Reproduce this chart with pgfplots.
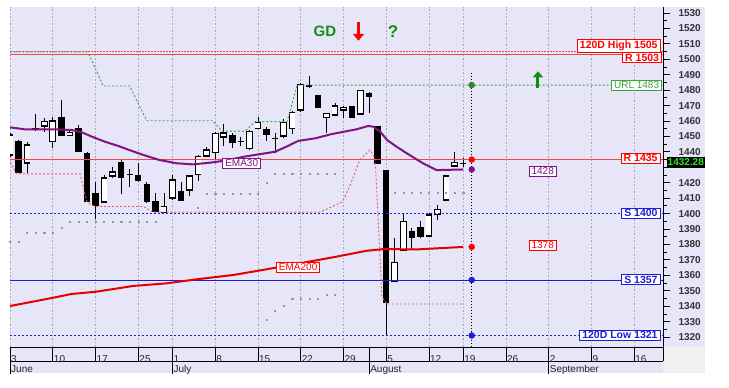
\documentclass[border=0pt]{standalone}
\usepackage{fontspec}
\setmainfont{Liberation Sans}
\usepackage{pgfplots}
\usepackage{pgfplotstable}
\pgfplotsset{compat=1.18}
\usetikzlibrary{arrows.meta}

\definecolor{bgc}{RGB}{230,230,248}
\definecolor{emap}{RGB}{128,20,128}
\definecolor{emar}{RGB}{228,0,0}
\definecolor{rline}{RGB}{240,70,70}
\definecolor{sar}{RGB}{235,90,90}
\definecolor{gline}{RGB}{60,165,60}
\definecolor{bline}{RGB}{30,30,215}
\definecolor{gdgreen}{RGB}{20,140,20}
\definecolor{gridc}{RGB}{165,165,175}
\definecolor{dotg}{RGB}{150,150,160}
\definecolor{lastg}{RGB}{40,230,40}

% black (down) candles and dojis
\pgfplotstableread{
i open high low close
1 1447.0 1447.5 1426.0 1426.3
3 1455.3 1464.5 1453.5 1454.7
6 1462.6 1473.6 1450.3 1450.3
8 1455.5 1457.4 1439.9 1439.9
9 1439.3 1439.9 1407.5 1407.5
10 1413.3 1420.5 1396.5 1404.9
13 1433.4 1434.7 1412.7 1423.1
14 1425.8 1428.9 1417.2 1425.2
15 1425.0 1432.8 1420.5 1421.1
16 1419.2 1420.5 1406.9 1407.5
17 1408.2 1413.3 1401.0 1401.0
20 1414.8 1420.5 1408.4 1408.4
26 1450.9 1452.2 1442.5 1445.9
27 1446.8 1449.8 1443.8 1446.2
30 1454.6 1455.9 1447.2 1450.9
31 1449.1 1452.0 1439.1 1448.5
35 1483.3 1489.0 1481.2 1481.8
36 1476.9 1476.9 1468.2 1468.2
40 1469.7 1469.7 1461.8 1461.8
42 1478.0 1479.0 1465.4 1475.8
43 1457.0 1457.0 1432.1 1432.1
44 1428.2 1428.5 1321.3 1341.9
47 1388.9 1390.5 1376.4 1384.0
48 1391.1 1395.4 1384.0 1384.6
53 1432.9 1435.8 1430.4 1432.3
}\blackc

% white (up) candles
\pgfplotstableread{
i open high low close
0 1438.0 1452.2 1436.7 1450.9
2 1432.8 1446.4 1426.3 1444.4
4 1456.8 1462.0 1452.9 1459.6
5 1446.7 1462.6 1442.5 1460.0
7 1450.6 1454.2 1450.0 1452.6
11 1407.5 1425.0 1407.5 1423.1
12 1424.4 1430.2 1423.1 1427.0
18 1400.8 1413.3 1400.8 1404.5
19 1410.1 1425.0 1408.8 1421.8
21 1415.3 1425.0 1411.6 1424.4
22 1425.5 1438.0 1421.1 1436.9
23 1437.3 1443.3 1437.3 1441.2
24 1439.7 1453.1 1435.4 1452.0
25 1449.6 1458.1 1443.8 1452.2
28 1442.3 1454.2 1441.2 1453.1
29 1455.3 1462.4 1454.8 1459.2
32 1450.3 1461.1 1448.8 1459.2
33 1455.3 1466.7 1451.4 1465.4
34 1467.1 1484.4 1466.0 1483.8
37 1462.1 1465.0 1452.0 1464.9
38 1463.9 1471.5 1463.2 1469.7
39 1467.1 1469.7 1461.8 1468.9
41 1464.5 1480.0 1464.5 1479.6
45 1356.3 1384.4 1356.3 1368.2
46 1376.4 1400.2 1376.4 1394.7
49 1385.5 1400.4 1384.9 1399.1
50 1399.5 1405.6 1395.8 1402.8
51 1408.8 1424.4 1408.8 1424.4
52 1430.8 1440.1 1430.8 1433.0
}\whitec

\pgfplotstableread{
i v
0 1455.9
1.75 1454.6
5.3 1454.6
7.2 1454.2
8.4 1452.7
9.6 1449.8
11.1 1446.6
12.9 1443.4
13.6 1441.9
15.6 1438.0
17.5 1434.7
19.5 1432.6
21.4 1431.9
23.4 1433.0
25.1 1434.3
27.5 1437.0
31.0 1440.1
32.5 1443.8
33.7 1447.1
35.7 1448.8
37.6 1451.5
40.5 1454.6
41.9 1456.8
42.5 1456.3
43.3 1453.1
44.1 1447.7
45.2 1443.4
46.4 1439.1
48.3 1432.6
49.9 1428.2
53 1428.6
}\emathirty

\pgfplotstableread{
i v
0 1340.1
4.7 1345.1
7.2 1347.9
10.1 1349.4
14.4 1353.1
18.3 1354.8
21.8 1357.4
26.1 1360.2
30.0 1363.9
33.9 1367.8
37.8 1371.7
41.7 1375.9
43.7 1377.0
47.6 1376.8
53 1378.4
}\ematwohundred

\pgfplotstableread{
i v
0 1504.7
9.1 1504.7
10.9 1482.7
14.0 1482.7
16.0 1460.2
23.7 1460.2
24.8 1453.5
27.5 1453.5
28.7 1459.6
32.4 1459.6
33.6 1483.3
76.37 1483.3
}\greenstop

\pgfplotstableread{
i v
0 1433.4
0.8 1425.7
8.2 1425.7
9.0 1407.5
9.9 1404.6
15.6 1404.6
16.7 1401.0
36.3 1401.0
38.9 1407.7
39.8 1418.5
40.9 1434.7
42.1 1441.2
42.7 1436.0
43.5 1346.0
44.1 1341.4
53 1341.4
}\redstop

\pgfplotstableread{
i v
0 1381.8
1 1381.8
2 1387.6
3 1387.6
4 1387.6
5 1387.6
6 1390.9
7 1394.7
8 1394.7
9 1394.7
10 1394.7
11 1394.7
12 1394.7
13 1394.7
14 1394.7
15 1394.7
16 1394.7
17 1394.7
22 1404.0
23 1413.1
24 1413.1
25 1413.1
26 1413.1
27 1413.1
28 1413.1
29 1413.1
30 1420.0
31 1426.1
32 1426.1
33 1426.1
34 1426.1
35 1426.1
36 1426.1
37 1426.1
38 1426.1
45 1413.7
46 1413.7
47 1413.7
48 1413.7
49 1413.7
50 1413.7
51 1413.7
52 1413.7
53 1413.7
}\greyup

\pgfplotstableread{
i v
30 1331.0
31 1336.9
32 1340.1
33 1345.1
34 1345.1
35 1345.1
36 1345.1
37 1347.2
38 1347.2
}\greylow

\tikzset{
  lbox/.style={draw=#1, text=#1, fill=white, line width=0.8pt, inner xsep=2.5pt, inner ysep=1.4pt, font=\fontsize{10}{11}\selectfont},
  lboxb/.style={draw=#1, text=#1, fill=white, line width=0.8pt, inner xsep=2.5pt, inner ysep=1.4pt, font=\bfseries\fontsize{10.5}{11}\selectfont},
}

\begin{document}
\begin{tikzpicture}
\useasboundingbox (0pt,0pt) rectangle (729pt,388pt);
\fill[white] (0pt,0pt) rectangle (729pt,388pt);
\fill[bgc] (10pt,41pt) rectangle (705pt,381pt);
\fill[bgc] (10pt,15pt) rectangle (663pt,41pt);
\fill[gray!12] (663pt,15pt) rectangle (705pt,41pt);
\draw[black, line width=0.8pt] (10pt,27pt) -- (663pt,27pt);
\draw[black, line width=0.8pt] (663pt,41pt) -- (663pt,27pt);
\begin{axis}[
  at={(10pt,41pt)}, anchor=south west,
  scale only axis, width=653pt, height=340pt,
  xmin=0, xmax=76.37, ymin=1313.55, ymax=1533.9,
  axis x line*=bottom, axis y line*=right,
  axis line style={-, black, line width=0.8pt},
  clip mode=individual,
  tick align=outside,
  xtick={0,5,10,15,19,24,29,34,39,44,49,53,58,63,68,73},
  xticklabels={3,10,17,25,1,8,15,22,29,5,12,19,26,2,9,16},
  x tick style={draw=none},
  xticklabel style={anchor=north west, inner sep=1pt, font=\fontsize{10}{12}\selectfont, text=black!85},
  extra x ticks={0,19,42,63},
  extra x tick labels={June,July,August,September},
  extra x tick style={grid=none, xticklabel style={anchor=north west, yshift=-10.5pt}},
  xmajorgrids,
  major grid style={gridc, dash pattern=on 1.5pt off 2pt, line width=0.6pt},
  ytick={1320,1330,...,1530},
  yticklabels={1320,1330,1340,1350,1360,1370,1380,1390,1400,1410,1420,{},1440,1450,1460,1470,1480,1490,1500,1510,1520,1530},
  minor y tick num=1,
  major tick length=7pt, minor tick length=3.5pt,
  y tick style={black, line width=0.8pt},
  yticklabel style={font=\bfseries\fontsize{10}{12}\selectfont, text=black!80, anchor=west, xshift=5pt},
  /pgf/number format/1000 sep={},
]
% date separators
\pgfplotsinvokeforeach{5,10,15,24,29,34,39,44,49,53,58,68,73}{
  \draw[black, line width=0.8pt] (axis cs:#1,1313.55) -- ++(0pt,-14pt);
}
\pgfplotsinvokeforeach{0,19,42,63}{
  \draw[black, line width=0.8pt] (axis cs:#1,1313.55) -- ++(0pt,-27pt);
}

% candles: wicks
\addplot[draw=none, mark=none, forget plot, error bars/.cd, y dir=plus, y explicit, error mark=none,
  error bar style={draw=black, line width=0.8pt}]
  table[x=i, y=low, y error expr=\thisrow{high}-\thisrow{low}] {\blackc};
\addplot[draw=none, mark=none, forget plot, error bars/.cd, y dir=plus, y explicit, error mark=none,
  error bar style={draw=black, line width=0.8pt}]
  table[x=i, y=low, y error expr=\thisrow{high}-\thisrow{low}] {\whitec};
% black bodies
\addplot[draw=none, mark=none, forget plot, error bars/.cd, y dir=minus, y explicit, error mark=none,
  error bar style={draw=black, line width=6.4pt}]
  table[x=i, y=open, y error expr=\thisrow{open}-\thisrow{close}] {\blackc};
% white bodies
\addplot[draw=none, mark=none, forget plot, error bars/.cd, y dir=minus, y explicit, error mark=none,
  error bar style={draw=black, line width=6.6pt}]
  table[x=i, y expr=\thisrow{close}+0.4, y error expr=\thisrow{close}-\thisrow{open}+0.8] {\whitec};
\addplot[draw=none, mark=none, forget plot, error bars/.cd, y dir=minus, y explicit, error mark=none,
  error bar style={draw=white, line width=5.0pt}]
  table[x=i, y expr=\thisrow{close}-0.4, y error expr=\thisrow{close}-\thisrow{open}-0.8] {\whitec};

% grey dot series
\addplot[only marks, mark=square*, mark size=0.55pt, color=dotg] table[x=i, y=v] {\greyup};
\addplot[only marks, mark=square*, mark size=0.55pt, color=dotg] table[x=i, y=v] {\greylow};

% horizontal levels
\addplot[rline, line width=0.8pt, dash pattern=on 1.5pt off 1.5pt] coordinates {(0,1505) (76.37,1505)};
\addplot[rline, line width=0.9pt] coordinates {(0,1503) (76.37,1503)};
\addplot[rline, line width=0.9pt] coordinates {(0,1435) (76.37,1435)};
\addplot[bline, line width=0.9pt, dash pattern=on 2pt off 2pt] coordinates {(0,1400) (76.37,1400)};
\addplot[bline, line width=0.9pt] coordinates {(0,1357) (76.37,1357)};
\addplot[bline, line width=0.9pt, dash pattern=on 2pt off 2pt] coordinates {(0,1321) (76.37,1321)};

% trailing stops
\addplot[gline, line width=0.9pt, dash pattern=on 2pt off 2pt] table[x=i, y=v] {\greenstop};
\addplot[sar, line width=0.9pt, dash pattern=on 2pt off 2pt] table[x=i, y=v] {\redstop};

% moving averages
\addplot[emar, line width=2pt] table[x=i, y=v] {\ematwohundred};
\addplot[emap, line width=2pt] table[x=i, y=v] {\emathirty};

% projection column
\addplot[black, line width=1pt, dash pattern=on 1.2pt off 1.8pt] coordinates {(54,1491.3) (54,1313.55)};
\addplot[only marks, mark=*, mark size=3pt, color=gline!80!black] coordinates {(54,1483.3)};
\addplot[only marks, mark=*, mark size=3pt, color=red] coordinates {(54,1435)};
\addplot[only marks, mark=*, mark size=3pt, color=emap] coordinates {(54,1428.6)};
\addplot[only marks, mark=*, mark size=3pt, color=red] coordinates {(54,1378.4)};
\addplot[only marks, mark=*, mark size=3pt, color=bline] coordinates {(54,1357)};
\addplot[only marks, mark=*, mark size=3pt, color=bline] coordinates {(54,1321)};

% labels
\node[lboxb=red, anchor=east, xshift=-2.5pt] at (axis cs:76.37,1508.8) {120D High 1505};
\node[lboxb=red, anchor=east, xshift=-1pt] at (axis cs:76.37,1501.2) {R 1503};
\node[lbox=gline, anchor=east, xshift=-1pt] at (axis cs:76.37,1483.0) {URL 1483};
\node[lboxb=red, anchor=east, xshift=-2.5pt] at (axis cs:76.37,1436.0) {R 1435};
\node[lboxb=bline, anchor=east, xshift=-2.5pt] at (axis cs:76.37,1400.2) {S 1400};
\node[lboxb=bline, anchor=east, xshift=-2.5pt] at (axis cs:76.37,1357.2) {S 1357};
\node[lboxb=bline, anchor=east, xshift=-2.5pt] at (axis cs:76.37,1321.1) {120D Low 1321};
\node[lbox=emap] at (axis cs:62.3,1427.6) {1428};
\node[lbox=red] at (axis cs:62.3,1379.4) {1378};
\node[lbox=emap] at (axis cs:27.1,1432.8) {EMA30};
\node[lbox=red] at (axis cs:33.7,1365.4) {EMA200};
\node[fill=black, text=lastg, font=\bfseries\fontsize{10}{11}\selectfont, anchor=west, inner xsep=1pt, inner ysep=2pt, xshift=3.5pt] at (axis cs:76.37,1433.4) {1432.28};

\node[text=gdgreen, font=\bfseries\fontsize{15}{18}\selectfont] at (axis cs:36.84,1518.0) {GD};
\node[text=gdgreen, font=\bfseries\fontsize{17}{18}\selectfont] at (axis cs:44.8,1517.7) {?};
\draw[red, line width=3.5pt, -{Triangle[width=11pt,length=7pt]}] (axis cs:40.76,1524) -- (axis cs:40.76,1512);
\draw[gdgreen, line width=3pt, -{Triangle[width=10pt,length=6pt]}] (axis cs:61.75,1481.6) -- (axis cs:61.75,1492.2);
\end{axis}
\end{tikzpicture}
\end{document}
